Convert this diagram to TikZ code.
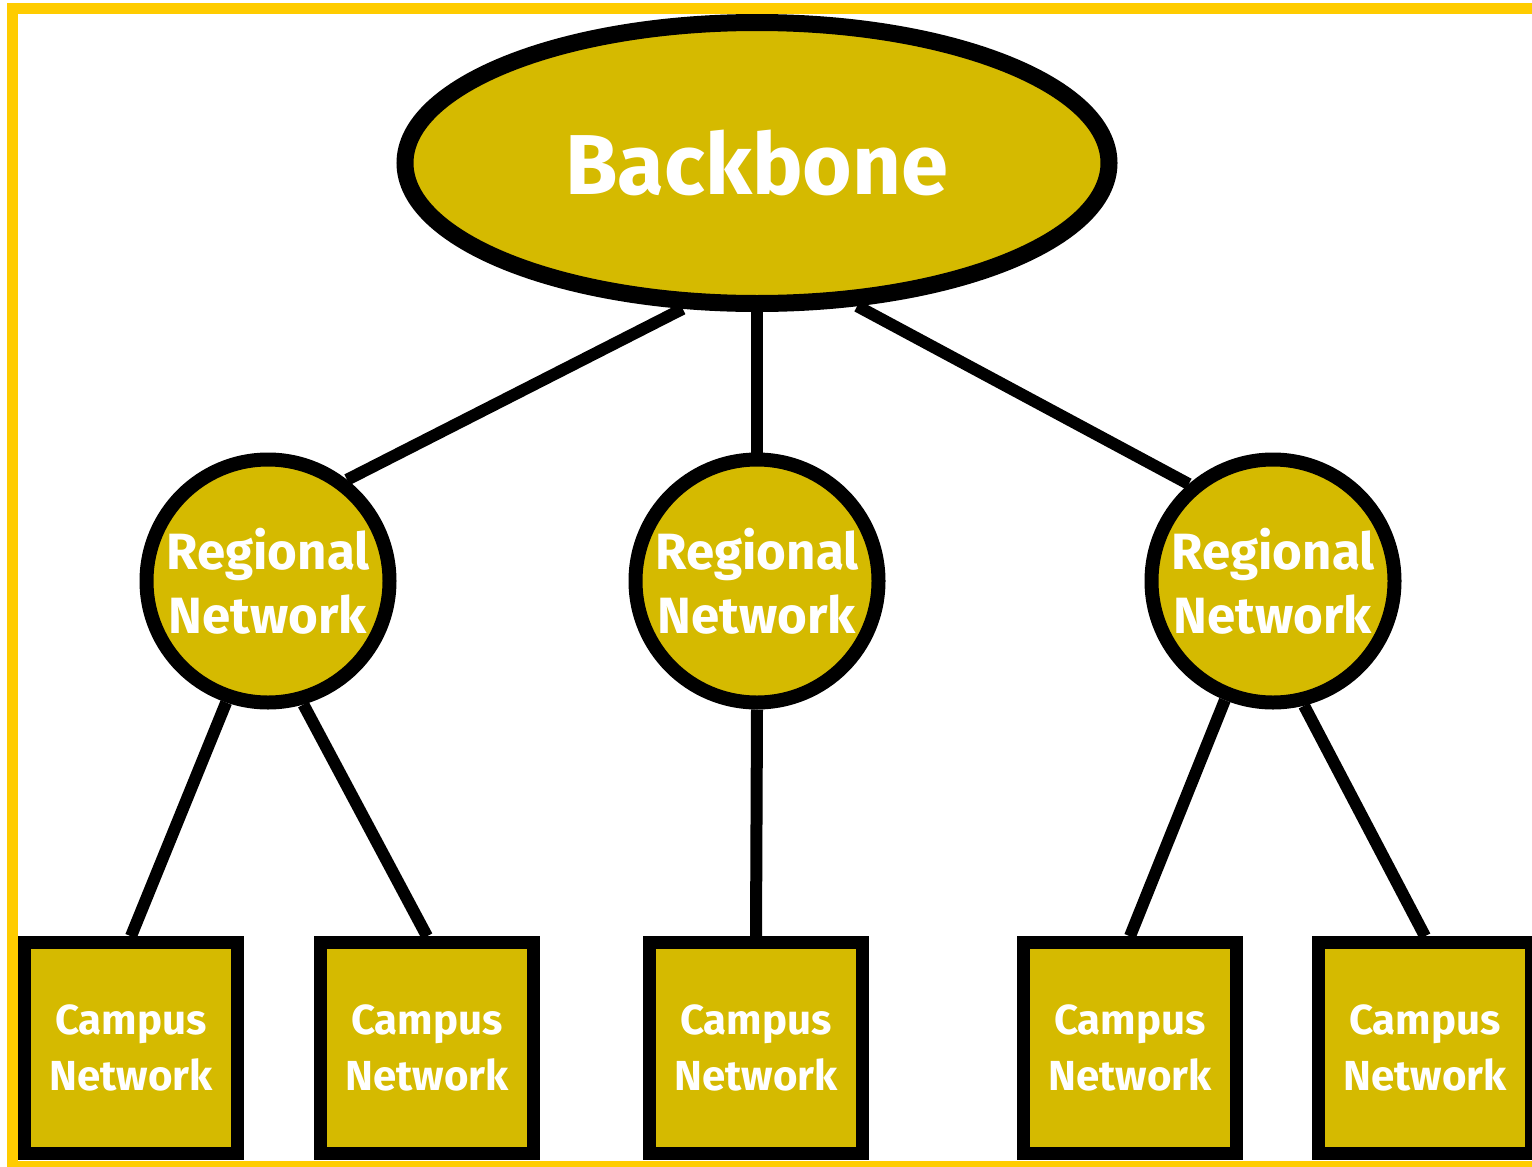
\documentclass[tikz,border=0pt]{standalone}
\usepackage{fontspec}
\setmainfont{Fira Sans}
\usetikzlibrary{shapes.geometric,backgrounds}
\pgfdeclarelayer{bottom}
\pgfsetlayers{bottom,background,main}
\definecolor{frameyellow}{HTML}{FFCC00}
\definecolor{nodefill}{HTML}{D5BA00}
\tikzset{
  base/.style={draw=black, fill=nodefill, text=white, align=center, inner sep=0pt, font=\bfseries},
  backbone/.style={base, ellipse, line width=17pt, minimum width=704pt, minimum height=281pt, font=\bfseries\fontsize{85}{100}\selectfont},
  regional/.style={base, circle, line width=14pt, minimum size=243pt, font=\bfseries\fontsize{51}{64}\selectfont},
  campus/.style={base, rectangle, line width=12.5pt, minimum width=213pt, minimum height=211pt, font=\bfseries\fontsize{42}{56}\selectfont},
  link/.style={draw=black, line width=12pt}
}
\begin{document}
\begin{tikzpicture}[x=1pt,y=-1pt]
\useasboundingbox (0,0) rectangle (1532,1167);
\begin{pgfonlayer}{bottom}
\fill[white] (0,0) rectangle (1532,1167);
\begin{scope}
\clip (0,0) rectangle (1532,1167);
\draw[frameyellow, line width=11pt] (1620,8.5) -- (12.5,8.5) -- (12.5,1166.5) -- (1620,1166.5);
\end{scope}
\end{pgfonlayer}

\node[backbone] (bb) at (757,163) {Backbone};

\node[regional] (r1) at (268,581) {Regional\\Network};
\node[regional] (r2) at (757,581) {Regional\\Network};
\node[regional] (r3) at (1273,581) {Regional\\Network};

\node[campus] (c1) at (131,1048) {Campus\\Network};
\node[campus] (c2) at (427,1048) {Campus\\Network};
\node[campus] (c3) at (756,1048) {Campus\\Network};
\node[campus] (c4) at (1130,1048) {Campus\\Network};
\node[campus] (c5) at (1425,1048) {Campus\\Network};

\begin{pgfonlayer}{background}
\draw[link] (bb.243.6) -- (r1.52.5);
\draw[link] (bb.south) -- (r2.north);
\draw[link] (bb.305.5) -- (r3.131.9);
\draw[link] (r1.251.8) -- (c1.north);
\draw[link] (r1.286.9) -- (c2.north);
\draw[link] (r2.south) -- (c3.north);
\draw[link] (r3.248.9) -- (c4.north);
\draw[link] (r3.284.7) -- (c5.north);
\end{pgfonlayer}
\end{tikzpicture}
\end{document}
